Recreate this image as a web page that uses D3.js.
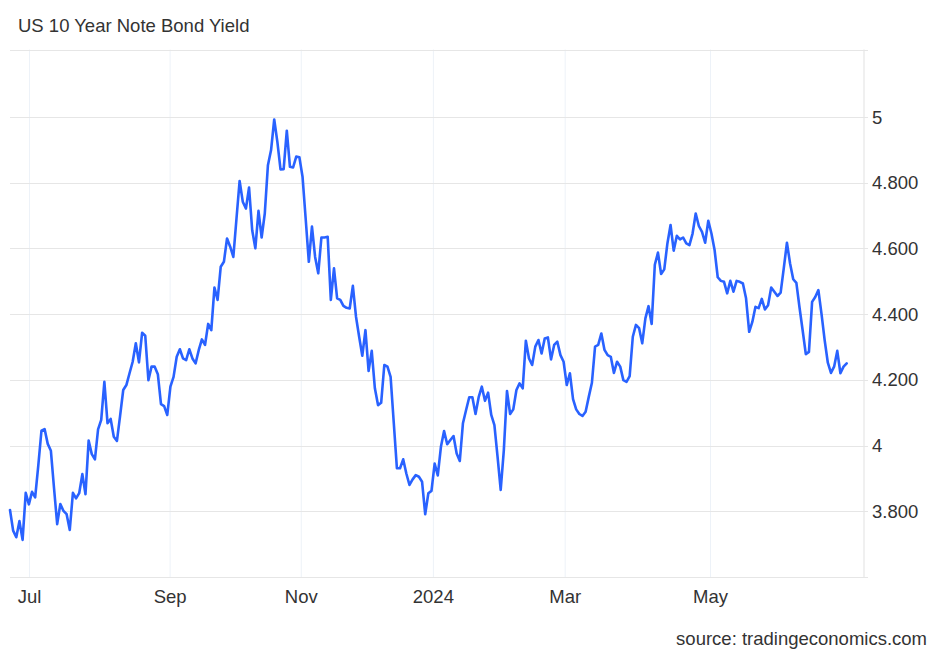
<!DOCTYPE html>
<html>
<head>
<meta charset="utf-8">
<script src="https://cdn.jsdelivr.net/npm/d3@7"></script>
<style>
  html, body { margin: 0; padding: 0; background: #fff; }
  svg { display: block; font-family: "Liberation Sans", Arial, sans-serif; }
</style>
</head>
<body>
<svg id="chart" width="943" height="654"></svg>
<script>
// daily yield readings, one per trading session, Jun 2023 - Jun 2024
const yields = [
  3.804, 3.741, 3.721, 3.770, 3.713, 3.856, 3.821, 3.859, 3.842, 3.94,
  4.045, 4.050, 4.005, 3.984, 3.87, 3.761, 3.822, 3.801, 3.791, 3.743,
  3.856, 3.839, 3.855, 3.913, 3.852, 4.015, 3.974, 3.958, 4.049, 4.078,
  4.194, 4.068, 4.081, 4.027, 4.014, 4.09, 4.169, 4.184, 4.22, 4.255,
  4.311, 4.253, 4.343, 4.334, 4.199, 4.240, 4.240, 4.217, 4.126, 4.12,
  4.093, 4.179, 4.209, 4.270, 4.293, 4.265, 4.26, 4.293, 4.265, 4.25,
  4.29, 4.323, 4.306, 4.37, 4.351, 4.481, 4.443, 4.544, 4.559, 4.630,
  4.605, 4.574, 4.69, 4.805, 4.742, 4.721, 4.785, 4.655, 4.600, 4.714,
  4.633, 4.706, 4.853, 4.899, 4.992, 4.924, 4.840, 4.841, 4.958, 4.848,
  4.846, 4.879, 4.877, 4.818, 4.69, 4.559, 4.666, 4.574, 4.524, 4.633,
  4.633, 4.635, 4.443, 4.539, 4.448, 4.443, 4.425, 4.419, 4.417, 4.486,
  4.392, 4.331, 4.273, 4.351, 4.227, 4.288, 4.174, 4.123, 4.130, 4.245,
  4.240, 4.209, 4.07, 3.931, 3.931, 3.958, 3.915, 3.880, 3.897, 3.910,
  3.905, 3.890, 3.791, 3.855, 3.862, 3.945, 3.909, 3.996, 4.044, 4.004,
  4.017, 4.029, 3.976, 3.953, 4.068, 4.108, 4.147, 4.147, 4.096, 4.147,
  4.179, 4.136, 4.161, 4.093, 4.062, 3.966, 3.865, 3.986, 4.166, 4.096,
  4.110, 4.169, 4.189, 4.174, 4.319, 4.265, 4.245, 4.301, 4.321, 4.280,
  4.326, 4.329, 4.262, 4.306, 4.316, 4.275, 4.255, 4.184, 4.220, 4.141,
  4.110, 4.096, 4.090, 4.103, 4.148, 4.191, 4.301, 4.306, 4.341, 4.291,
  4.275, 4.270, 4.221, 4.255, 4.240, 4.199, 4.194, 4.211, 4.331, 4.367,
  4.357, 4.311, 4.387, 4.424, 4.370, 4.550, 4.587, 4.522, 4.536, 4.615,
  4.671, 4.593, 4.638, 4.627, 4.633, 4.615, 4.610, 4.645, 4.706, 4.668,
  4.650, 4.617, 4.684, 4.645, 4.595, 4.512, 4.501, 4.498, 4.463, 4.501,
  4.468, 4.501, 4.498, 4.493, 4.448, 4.346, 4.376, 4.422, 4.418, 4.446,
  4.414, 4.427, 4.481, 4.468, 4.455, 4.465, 4.54, 4.617, 4.554, 4.506,
  4.495, 4.42, 4.35, 4.278, 4.285, 4.437, 4.452, 4.473, 4.40, 4.32,
  4.252, 4.221, 4.240, 4.288, 4.220, 4.240, 4.250
];

// month ticks, given as position in the session index
const monthLabels = ['Jul', 'Sep', 'Nov', '2024', 'Mar', 'May'];
const monthAt = [6.2, 50.9, 92.6, 134.6, 176.5, 222.7];

const yTicks = [3.8, 4, 4.2, 4.4, 4.6, 4.8, 5];
const yTickLabels = ['3.800', '4', '4.200', '4.400', '4.600', '4.800', '5'];
const yDomain = [3.6, 5.205];

const svg = d3.select('#chart');
const plot = { left: 10, right: 864, top: 49.5, bottom: 577, lastX: 846.7 };
const textColor = '#333';

const x = d3.scaleLinear()
  .domain([0, yields.length - 1])
  .range([plot.left, plot.lastX]);

const y = d3.scaleLinear()
  .domain(yDomain)
  .range([plot.bottom, plot.top]);

// vertical month gridlines
svg.append('g')
  .selectAll('line')
  .data(monthAt)
  .join('line')
  .attr('x1', d => x(d)).attr('x2', d => x(d))
  .attr('y1', plot.top).attr('y2', plot.bottom)
  .attr('stroke', '#edf2f8')
  .attr('stroke-width', 1);

// horizontal gridlines, incl. top frame and bottom line
svg.append('g')
  .selectAll('line')
  .data([yDomain[0], ...yTicks, yDomain[1]])
  .join('line')
  .attr('x1', plot.left).attr('x2', plot.right + 4)
  .attr('y1', d => Math.round(y(d)) + 0.5).attr('y2', d => Math.round(y(d)) + 0.5)
  .attr('stroke', '#e6e6e6')
  .attr('stroke-width', 1.2);

// right axis line
svg.append('line')
  .attr('x1', plot.right).attr('x2', plot.right)
  .attr('y1', plot.top).attr('y2', plot.bottom)
  .attr('stroke', '#e6e6e6')
  .attr('stroke-width', 1.2);

// y labels on the right
svg.append('g')
  .selectAll('text')
  .data(yTicks)
  .join('text')
  .attr('x', plot.right + 8)
  .attr('y', d => y(d))
  .attr('dy', '0.36em')
  .attr('font-size', 18.5)
  .attr('fill', textColor)
  .text((d, i) => yTickLabels[i]);

// x labels
svg.append('g')
  .selectAll('text')
  .data(monthAt)
  .join('text')
  .attr('x', d => x(d))
  .attr('y', 603)
  .attr('text-anchor', 'middle')
  .attr('font-size', 18.5)
  .attr('fill', textColor)
  .text((d, i) => monthLabels[i]);

// the yield line
const line = d3.line()
  .x((d, i) => x(i))
  .y(d => y(d));

svg.append('path')
  .datum(yields)
  .attr('d', line)
  .attr('fill', 'none')
  .attr('stroke', '#2962ff')
  .attr('stroke-width', 2.6)
  .attr('stroke-linejoin', 'round')
  .attr('stroke-linecap', 'round');

// title and source
svg.append('text')
  .attr('x', 18)
  .attr('y', 31.5)
  .attr('font-size', 18.5)
  .attr('fill', textColor)
  .text('US 10 Year Note Bond Yield');

svg.append('text')
  .attr('x', 927)
  .attr('y', 645)
  .attr('text-anchor', 'end')
  .attr('font-size', 18.5)
  .attr('fill', textColor)
  .text('source: tradingeconomics.com');
</script>
</body>
</html>
